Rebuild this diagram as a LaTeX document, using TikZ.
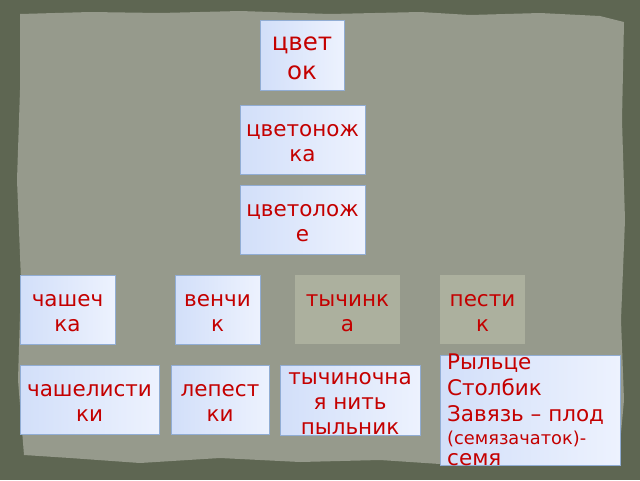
\documentclass[tikz,border=0pt]{standalone}
\usepackage{fontspec}
\newfontfamily\djv{DejaVu Sans}
\definecolor{outerbg}{RGB}{94,102,82}
\definecolor{paper}{RGB}{150,154,140}
\definecolor{boxL}{RGB}{210,223,249}
\definecolor{boxR}{RGB}{237,242,254}
\definecolor{boxline}{RGB}{145,173,212}
\definecolor{grayfill}{RGB}{172,176,158}
\definecolor{redtxt}{RGB}{196,0,0}
\newcommand{\topstrut}{\rule{0pt}{21pt}}
\newcommand{\botstrut}{\rule[-2pt]{0pt}{0pt}}
\tikzset{
  bluebox/.style={draw=boxline, line width=0.8pt, left color=boxL, right color=boxR,
    inner sep=0pt, text=redtxt, align=center, font=\djv\fontsize{21.5}{25}\selectfont},
  graybox/.style={fill=grayfill, inner sep=0pt, text=redtxt, align=center,
    font=\djv\fontsize{21.5}{25}\selectfont},
  txt/.style={inner sep=0pt, text=redtxt, font=\djv\fontsize{21.5}{25}\selectfont}
}
\begin{document}
\begin{tikzpicture}[x=1pt,y=-1pt]
\useasboundingbox (0,0) rectangle (640,480);
\fill[outerbg] (0,0) rectangle (640,480);
\fill[paper] (20,14) -- (90,12) -- (160,13) -- (240,11) -- (330,14) -- (420,12)
  -- (470,15) -- (540,13) -- (600,16) -- (624,22) -- (622,120) -- (625,220)
  -- (621,320) -- (624,400) -- (619,455) -- (560,462) -- (470,466) -- (380,460)
  -- (300,462) -- (220,458) -- (140,463) -- (70,458) -- (24,455) -- (18,380)
  -- (21,280) -- (17,180) -- (20,90) -- cycle;
% top column
\node[bluebox, minimum width=84, minimum height=70, font=\djv\fontsize{24.5}{29}\selectfont] (flower) at (302,55) {\topstrut цвет\\ок\botstrut};
\node[bluebox, minimum width=125, minimum height=69] (pedicel) at (302.5,139.5) {\topstrut цветонож\\ка\botstrut};
\node[bluebox, minimum width=125, minimum height=69] (receptacle) at (302.5,219.5) {\topstrut цветолож\\е\botstrut};
% middle row
\node[bluebox, minimum width=95, minimum height=69] (calyx) at (67.5,309.5) {\topstrut чашеч\\ка\botstrut};
\node[bluebox, minimum width=85, minimum height=69] (corolla) at (217.5,309.5) {\topstrut венчи\\к\botstrut};
\node[graybox, minimum width=105, minimum height=69] (stamen) at (347.5,309.5) {\topstrut тычинк\\а\botstrut};
\node[graybox, minimum width=85, minimum height=69] (pistil) at (482.5,309.5) {\topstrut пести\\к\botstrut};
% bottom row
\node[bluebox, minimum width=139, minimum height=69] (sepals) at (89.5,399.5) {\topstrut чашелисти\\ки\botstrut};
\node[bluebox, minimum width=98, minimum height=69] (petals) at (220,399.5) {\topstrut лепест\\ки\botstrut};
\node[bluebox, minimum width=140, minimum height=70] (stamenparts) at (350,400) {};
\node[txt, align=center] (stamentext) at (stamenparts.center) {\topstrut тычиночна\\я нить\\пыльник\botstrut};
\node[bluebox, minimum width=180, minimum height=110] (pistilparts) at (530,410) {};
\node[txt, align=left, anchor=west] (pistiltext) at (447,410)
  {Рыльце\\[1pt]Столбик\\[1pt]Завязь – плод\\[-2pt]{\fontsize{17.8}{20}\selectfont(семязачаток)-}\\[-4pt]семя};
\end{tikzpicture}
\end{document}
